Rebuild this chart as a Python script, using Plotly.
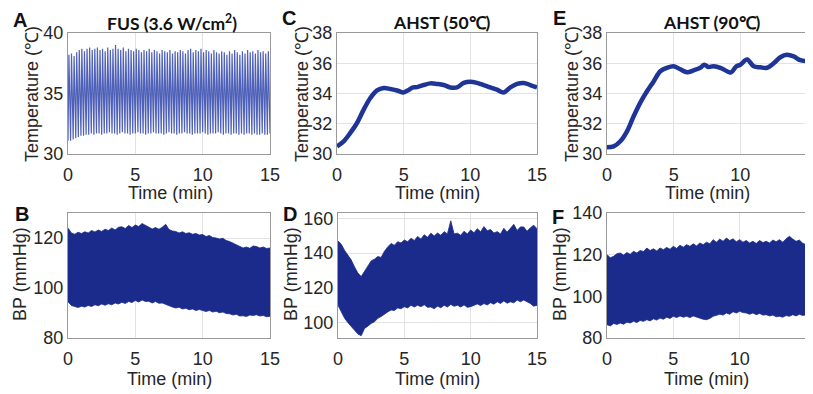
import numpy as np
import plotly.graph_objects as go

# ---------------- data ----------------
# Panel A: FUS temperature oscillation, peak and trough value of each cycle (deg C)
A_peaks = [38.2, 38.3, 38.1, 38.4, 38.6, 38.7, 38.5, 38.7, 38.8, 38.6, 38.7, 38.8, 38.6, 38.7,
           38.5, 38.8, 38.6, 38.7, 39.0, 38.7, 38.6, 38.8, 38.5, 38.7, 38.6, 38.5, 38.7, 38.6,
           38.4, 38.6, 38.5, 38.7, 38.4, 38.6, 38.5, 38.3, 38.6, 38.5, 38.4, 38.6, 38.3, 38.5,
           38.4, 38.6, 38.5, 38.3, 38.6, 38.7, 38.4, 38.6, 38.5, 38.7, 38.4, 38.6, 38.5, 38.3,
           38.6, 38.4, 38.3, 38.5, 38.4, 38.2, 38.5, 38.3, 38.6, 38.4, 38.2, 38.5, 38.3, 38.6,
           38.4, 38.5, 38.3, 38.6, 38.4, 38.5, 38.3, 38.5]
A_troughs = [31.1, 31.1, 31.2, 31.3, 31.4, 31.5, 31.5, 31.6, 31.6, 31.7, 31.6, 31.7, 31.7, 31.6,
             31.7, 31.7, 31.8, 31.7, 31.7, 31.6, 31.7, 31.8, 31.7, 31.7, 31.6, 31.7, 31.7, 31.8,
             31.7, 31.7, 31.6, 31.7, 31.7, 31.8, 31.7, 31.7, 31.7, 31.6, 31.7, 31.8, 31.7, 31.7,
             31.6, 31.7, 31.7, 31.8, 31.7, 31.7, 31.6, 31.7, 31.7, 31.7, 31.8, 31.7, 31.6, 31.7,
             31.7, 31.7, 31.8, 31.7, 31.6, 31.7, 31.7, 31.6, 31.7, 31.7, 31.6, 31.7, 31.6, 31.7,
             31.7, 31.6, 31.7, 31.6, 31.6, 31.7, 31.6, 31.6, 31.7]

# Panels C and E: AHST temperature (deg C)
C_time = [0, 0.5, 1, 1.5, 2, 2.5, 3, 3.5, 4, 4.5, 5, 5.3, 5.7, 6, 6.5, 7, 7.5, 8, 8.5, 9,
          9.5, 10, 10.5, 11, 11.5, 12, 12.5, 13, 13.5, 14, 14.5, 15]
C_temp = [30.5, 30.84, 31.4, 32.05, 32.93, 33.7, 34.2, 34.36, 34.3, 34.2, 34.07, 34.2, 34.4,
          34.42, 34.56, 34.67, 34.63, 34.56, 34.4, 34.4, 34.7, 34.78, 34.7, 34.56, 34.4, 34.25,
          34.07, 34.4, 34.63, 34.7, 34.56, 34.4]
E_time = [0, 0.5, 1, 1.5, 2, 2.5, 3, 3.5, 4, 4.5, 5, 5.5, 6, 6.5, 7, 7.3, 7.6, 8, 8.5, 9,
          9.3, 9.7, 10, 10.5, 11, 11.5, 12, 12.5, 13, 13.5, 14, 14.5, 15]
E_temp = [30.44, 30.5, 30.84, 31.5, 32.5, 33.4, 34.15, 34.8, 35.47, 35.7, 35.8, 35.6, 35.4,
          35.53, 35.7, 35.9, 35.75, 35.8, 35.7, 35.47, 35.4, 35.8, 35.9, 36.24, 35.8, 35.73,
          35.7, 36.0, 36.4, 36.56, 36.45, 36.2, 36.13]

# Panels B, D, F: blood pressure envelopes (mmHg), every 0.25 min
BP_time = [i * 0.25 for i in range(61)]
B_upper = [124.0, 122.0, 121.5, 122.3, 121.8, 122.5, 122.0, 123.0, 122.4, 123.2, 122.6, 123.5,
           123.0, 124.0, 123.2, 124.3, 124.5, 123.8, 125.0, 124.2, 125.2, 124.6, 125.8, 125.0,
           124.5, 123.6, 124.2, 123.5, 124.3, 125.5, 123.4, 122.8, 122.6, 122.0, 122.5, 121.8,
           122.1, 121.5, 121.8, 121.2, 121.4, 120.6, 121.0, 120.2, 120.0, 119.6, 119.9, 119.0,
           118.6, 118.0, 117.3, 116.5, 116.0, 116.4, 115.9, 116.8, 116.6, 116.0, 116.4, 115.8,
           116.0]
B_lower = [94.5, 93.0, 92.6, 92.2, 92.7, 92.4, 93.0, 92.6, 93.3, 92.9, 93.6, 93.1, 93.7, 93.3,
           94.0, 93.6, 94.3, 93.8, 94.6, 94.2, 95.0, 94.4, 95.2, 94.6, 94.7, 94.0, 94.6, 93.9,
           94.0, 93.4, 93.0, 92.4, 92.0, 92.3, 91.6, 91.9, 91.3, 91.6, 91.0, 91.4, 91.0, 90.6,
           91.0, 90.4, 90.7, 90.1, 90.4, 89.8, 89.7, 89.2, 89.5, 88.8, 88.9, 88.6, 89.2, 89.0,
           89.3, 88.8, 89.0, 88.5, 88.7]
D_upper = [147.0, 145.0, 141.5, 139.0, 136.0, 132.0, 128.5, 126.5, 129.5, 132.0, 135.5, 136.5,
           138.0, 137.5, 141.0, 143.5, 145.5, 144.5, 146.5, 145.8, 147.5, 146.5, 148.5, 147.2,
           149.5, 148.0, 150.5, 149.0, 151.4, 149.8, 151.5, 150.2, 152.3, 151.0, 158.5, 151.0,
           151.4, 150.2, 152.5, 151.0, 153.3, 151.6, 154.0, 152.2, 155.2, 152.8, 153.5, 151.5,
           152.3, 151.0, 154.2, 152.0, 154.0, 156.5, 153.0, 155.0, 155.0, 152.5, 154.5, 156.0,
           154.0]
D_lower = [110.0, 106.0, 102.5, 100.0, 97.7, 95.8, 93.5, 92.5, 96.7, 98.0, 99.6, 100.5, 102.5,
           103.5, 105.0, 106.2, 107.3, 107.0, 108.5, 108.0, 109.2, 108.5, 110.0, 109.0, 110.0,
           109.2, 110.3, 108.8, 109.0, 108.0, 109.5, 108.6, 110.0, 109.0, 110.5, 109.4, 110.0,
           109.0, 110.2, 108.8, 109.2, 110.0, 110.8, 109.8, 111.0, 110.2, 111.5, 110.6, 112.0,
           111.0, 112.5, 111.2, 112.0, 111.4, 113.0, 112.0, 113.0, 112.0, 111.0, 109.5, 110.0]
F_upper = [120.0, 118.5, 119.2, 120.5, 120.8, 119.8, 121.0, 120.2, 121.6, 120.8, 122.0, 121.5,
           123.2, 122.0, 122.8, 121.8, 123.2, 122.4, 123.5, 122.6, 124.0, 123.0, 124.5, 123.6,
           124.8, 124.0, 125.2, 124.2, 125.6, 124.8, 126.0, 125.2, 127.2, 126.0, 127.5, 126.4,
           128.0, 126.8, 127.6, 126.2, 127.2, 126.0, 126.8, 125.6, 126.4, 125.4, 126.8, 125.8,
           126.4, 125.6, 127.0, 126.2, 127.2, 126.0, 127.6, 128.8, 127.5, 126.4, 127.0, 125.5,
           124.8]
F_lower = [86.4, 85.8, 87.0, 86.5, 87.2, 86.6, 87.6, 87.2, 88.0, 87.4, 88.4, 88.0, 88.8, 88.2,
           89.2, 88.6, 89.6, 89.0, 90.0, 89.4, 90.4, 89.8, 90.6, 90.0, 90.4, 89.8, 90.6, 90.0,
           89.6, 89.0, 88.8, 89.4, 90.4, 90.8, 91.4, 91.0, 92.0, 91.4, 92.6, 92.0, 92.8, 92.2,
           92.0, 91.4, 92.0, 91.2, 91.8, 91.0, 91.2, 90.6, 91.0, 90.2, 90.4, 90.0, 90.8, 90.4,
           91.2, 90.6, 91.4, 90.8, 91.2]

x_ticks = [0, 5, 10, 15]

# ---------------- figure ----------------
OFF = 8                      # the page body keeps an 8px margin
W, H = 813 - OFF, 394 - OFF
FILL = "#1b2b8c"
LINE = "#1f3497"
OSC = "#4e60b8"
FONT = "Liberation Sans"
TFONT = "Lato"


def px_x(x):
    return (x - OFF) / W


def px_y(y):
    return 1 - (y - OFF) / H


fig = go.Figure()

# Panel A oscillation
n = len(A_peaks)
T = 15.0 / n
ax, ay = [], []
for i in range(n):
    ax += [i * T, i * T + 0.35 * T]
    ay += [A_troughs[i], A_peaks[i]]
ax.append(15.0)
ay.append(A_troughs[n])
fig.add_trace(go.Scatter(x=ax, y=ay, mode="lines", line=dict(color=OSC, width=1.2),
                         xaxis="x", yaxis="y", showlegend=False))

# Panels C, E
fig.add_trace(go.Scatter(x=C_time, y=C_temp, mode="lines", line=dict(color=LINE, width=4.5, shape="spline"),
                         xaxis="x2", yaxis="y2", showlegend=False))
fig.add_trace(go.Scatter(x=E_time, y=E_temp, mode="lines", line=dict(color=LINE, width=4.5, shape="spline"),
                         xaxis="x3", yaxis="y3", showlegend=False))

# Panels B, D, F: filled BP bands
for lo, hi, xa, ya in [(B_lower, B_upper, "x4", "y4"), (D_lower, D_upper, "x5", "y5"),
                       (F_lower, F_upper, "x6", "y6")]:
    fig.add_trace(go.Scatter(x=BP_time, y=lo, mode="lines", line=dict(color=FILL, width=0.8),
                             xaxis=xa, yaxis=ya, showlegend=False))
    fig.add_trace(go.Scatter(x=BP_time, y=hi, mode="lines", line=dict(color=FILL, width=0.8),
                             fill="tonexty", fillcolor=FILL, xaxis=xa, yaxis=ya, showlegend=False))

# axes geometry (pixels in the 813x394 window)
cols = [(68, 270), (337, 537), (607, 807)]
cols_b = [(68, 270), (338, 537), (607, 806)]
row_top = (33, 154)
row_bot = (213, 338)

yspecs = [
    ([30, 40], [30, 35, 40]),
    ([30, 38], [30, 32, 34, 36, 38]),
    ([30, 38], [30, 32, 34, 36, 38]),
    ([80, 130], [80, 100, 120]),
    ([91.2, 163], [100, 120, 140, 160]),
    ([80, 140], [80, 100, 120, 140]),
]

axis_common = dict(showline=True, linecolor="#9a9a9a", linewidth=1, mirror=True,
                   showgrid=True, gridcolor="#e3e3e3", gridwidth=1, zeroline=False,
                   ticks="", automargin=False,
                   tickfont=dict(family=FONT, size=18, color="#262626"))

layout = {}
for k in range(6):
    suffix = "" if k == 0 else str(k + 1)
    c = cols[k % 3] if k < 3 else cols_b[k % 3]
    r = row_top if k < 3 else row_bot
    layout["xaxis" + suffix] = dict(axis_common, domain=[px_x(c[0]), min(1.0, px_x(c[1]))], range=[0, 15],
                                    tickvals=x_ticks, anchor="y" + suffix, ticklabelstandoff=4)
    layout["yaxis" + suffix] = dict(axis_common, domain=[px_y(r[1]), px_y(r[0])], range=yspecs[k][0],
                                    tickvals=yspecs[k][1], anchor="x" + suffix)

annotations = []


def ann(text, x, y, size, bold=False, family=FONT, angle=0):
    annotations.append(dict(text=text, x=px_x(x), y=px_y(y), xref="paper", yref="paper",
                            showarrow=False, textangle=angle, xanchor="center", yanchor="middle",
                            font=dict(family=family, size=size, color="#111111" if bold else "#262626")))


# panel letters
for letter, x, y in [("A", 20, 20), ("B", 22, 214), ("C", 289, 17.8), ("D", 290, 214),
                     ("E", 559, 17.8), ("F", 558, 216.5)]:
    ann("<b>%s</b>" % letter, x, y, 20, bold=True)

# titles
ann("<b>FUS (3.6 W/cm<sup>2</sup>)</b>", 172, 22, 17.5, bold=True, family=TFONT)
ann("<b>AHST (50℃)</b>", 442, 22.5, 17.5, bold=True, family=TFONT)
ann("<b>AHST (90℃)</b>", 712, 22.5, 17.5, bold=True, family=TFONT)

# axis titles
for x in (32, 302, 572):
    ann("Temperature (℃)", x, 94, 18, angle=-90)
for x in (20, 291, 560):
    ann("BP (mmHg)", x, 274, 18, angle=-90)
for x in (170, 437, 707):
    ann("Time (min)", x, 193, 18)
for x in (169, 437, 706):
    ann("Time (min)", x, 379, 18)

fig.update_layout(width=W, height=H, margin=dict(l=0, r=0, t=0, b=0, autoexpand=False),
                  paper_bgcolor="white", plot_bgcolor="white",
                  annotations=annotations, **layout)

fig.write_html("out.html")
